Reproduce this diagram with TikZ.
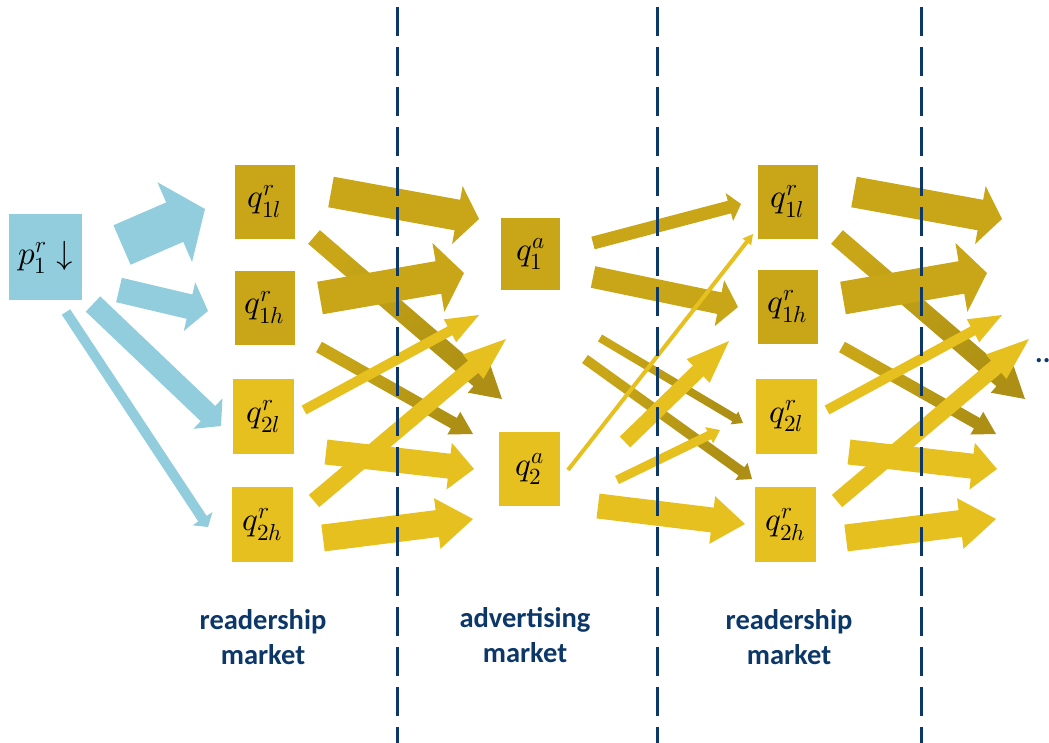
\documentclass[tikz,border=0pt]{standalone}
\usepackage{fontspec}
\usepackage{unicode-math}
\setmathfont{Latin Modern Math}
\setsansfont{Carlito}
\usepackage{tikz}
\usetikzlibrary{calc}
\definecolor{navy}{RGB}{12,55,105}
\definecolor{darkgold}{RGB}{200,166,23}
\definecolor{lightgold}{RGB}{230,192,30}
\definecolor{deepgold}{RGB}{172,143,20}
\definecolor{skyblue}{RGB}{146,205,221}
\tikzset{
  qbox/.style={shape=rectangle, inner sep=0pt, minimum width=60pt, minimum height=74pt, font=\fontsize{33}{38}\selectfont},
  % block arrow: shaft width / head width / head length
  fat/.style args={#1/#2/#3}{to path={
    ($(\tikztostart)!0.5*#1pt!90:(\tikztotarget)$)
    -- ($(\tikztotarget)!#3pt!(\tikztostart)!0.5*#1pt!-90:(\tikztostart)$)
    -- ($(\tikztotarget)!#3pt!(\tikztostart)!0.5*#2pt!-90:(\tikztostart)$)
    -- (\tikztotarget)
    -- ($(\tikztotarget)!#3pt!(\tikztostart)!0.5*#2pt!90:(\tikztostart)$)
    -- ($(\tikztotarget)!#3pt!(\tikztostart)!0.5*#1pt!90:(\tikztostart)$)
    -- ($(\tikztostart)!0.5*#1pt!-90:(\tikztotarget)$) -- cycle}},
  % gold that darkens toward the tip
  deepen/.style={top color=deepgold, bottom color=darkgold, shading angle=#1},
  divider/.style={navy, line width=3pt, dash pattern={on 29pt off 11pt}},
  market/.style={navy, align=center, font=\sffamily\bfseries\fontsize{28.5}{35}\selectfont}
}

\begin{document}
\begin{tikzpicture}[x=1pt, y=-1pt]
	\useasboundingbox (0,0) rectangle (1049,742);
	% Boxes:
	\node[qbox, fill=skyblue, minimum width=73pt, minimum height=86pt] (p1r) at (45.5,257){$p_1^r\downarrow$};
	\node[qbox, fill=darkgold] (q1l) at (264.5,201.5){$q_{1l}^r$};
	\node[qbox, fill=darkgold] (q1h) at (264.5,307.5){$q_{1h}^r$};
	\node[qbox, fill=lightgold, minimum width=61pt, minimum height=75pt] (q2l) at (263.5,416.5){$q_{2l}^r$};
	\node[qbox, fill=lightgold, minimum width=61pt, minimum height=75pt] (q2h) at (262.5,524.5){$q_{2h}^r$};
	\node[qbox, fill=darkgold, minimum width=59pt, minimum height=72pt] (q1a) at (530.5,254){$q_1^a$};
	\node[qbox, fill=lightgold, minimum width=61pt, minimum height=74pt] (q2a) at (529.5,469){$q_2^a$};
	\node[qbox, fill=darkgold] (r1l) at (787.5,201.5){$q_{1l}^r$};
	\node[qbox, fill=darkgold] (r1h) at (787.5,306.5){$q_{1h}^r$};
	\node[qbox, fill=lightgold, minimum width=61pt, minimum height=75pt] (r2l) at (786.5,416){$q_{2l}^r$};
	\node[qbox, fill=lightgold, minimum width=61pt, minimum height=75pt] (r2h) at (785.5,524.5){$q_{2h}^r$};
	% Price arrows:
	\fill[skyblue, fat=43/87/33] (122,245) to (205,209);
	\fill[skyblue, fat=25/50/19] (119,290) to (208,311);
	\fill[skyblue, fat=21/42/18] (93,304) to (221,426);
	\fill[skyblue, fat=10/24/10] (66,312) to (208,527);
	% Readership to advertising:
	\shade[deepen=-130.75, fat=18/35/30] (314,237) to (502,399);
	\shade[deepen=-119.5, fat=12/26/22] (319,347) to (473,434);
	\fill[darkgold, fat=31/59/22] (331,192) to (479,219);
	\fill[darkgold, fat=33/70/26] (320,298) to (464,273);
	\fill[lightgold, fat=25/47/25] (326,452) to (474,469);
	\fill[lightgold, fat=27/51/36] (323,538) to (473,519);
	\fill[lightgold, fat=10/26/33] (304,410) to (479,315);
	\fill[lightgold, fat=16/32/43] (314,501) to (506,339);
	% Advertising to readership:
	\fill[darkgold, fat=13/29/12] (593,243) to (741,204);
	\fill[darkgold, fat=22/47/19] (593,277) to (738,307);
	\shade[deepen=-120.7, fat=8/15/10] (600,338) to (743,423);
	\shade[deepen=-125.7, fat=10/21/13] (585,359) to (752,479);
	\fill[lightgold, fat=25/48/33] (598,506) to (745,524);
	\fill[lightgold, fat=9/18/12] (617,480) to (720,430);
	\fill[lightgold, fat=15/33/43] (625,442) to (729,341);
	\fill[lightgold, fat=4/11/10] (568,470) to (753,234);
	% Readership to next period:
	\shade[deepen=-130.75, fat=18/35/30] (837,237) to (1025,399);
	\shade[deepen=-119.5, fat=12/26/22] (842,347) to (996,434);
	\fill[darkgold, fat=31/59/22] (854,192) to (1002,219);
	\fill[darkgold, fat=33/70/26] (843,298) to (987,273);
	\fill[lightgold, fat=25/47/25] (849,452) to (997,469);
	\fill[lightgold, fat=27/51/36] (846,538) to (996,519);
	\fill[lightgold, fat=10/26/33] (827,410) to (1002,315);
	\fill[lightgold, fat=16/32/43] (837,501) to (1029,339);
	% Dividers:
	\draw[divider] (397,7) -- (397,760);
	\draw[divider] (657,7) -- (657,760);
	\draw[divider] (921,7) -- (921,760);
	% Market labels:
	\node[market] (readL) at (263,637){readership\\market};
	\node[market] (adv) at (525,635){advertising\\market};
	\node[market] (readR) at (789,637){readership\\market};
	\node[market, anchor=base west, inner sep=0pt] (more) at (1035,362){...};
\end{tikzpicture}
\end{document}
